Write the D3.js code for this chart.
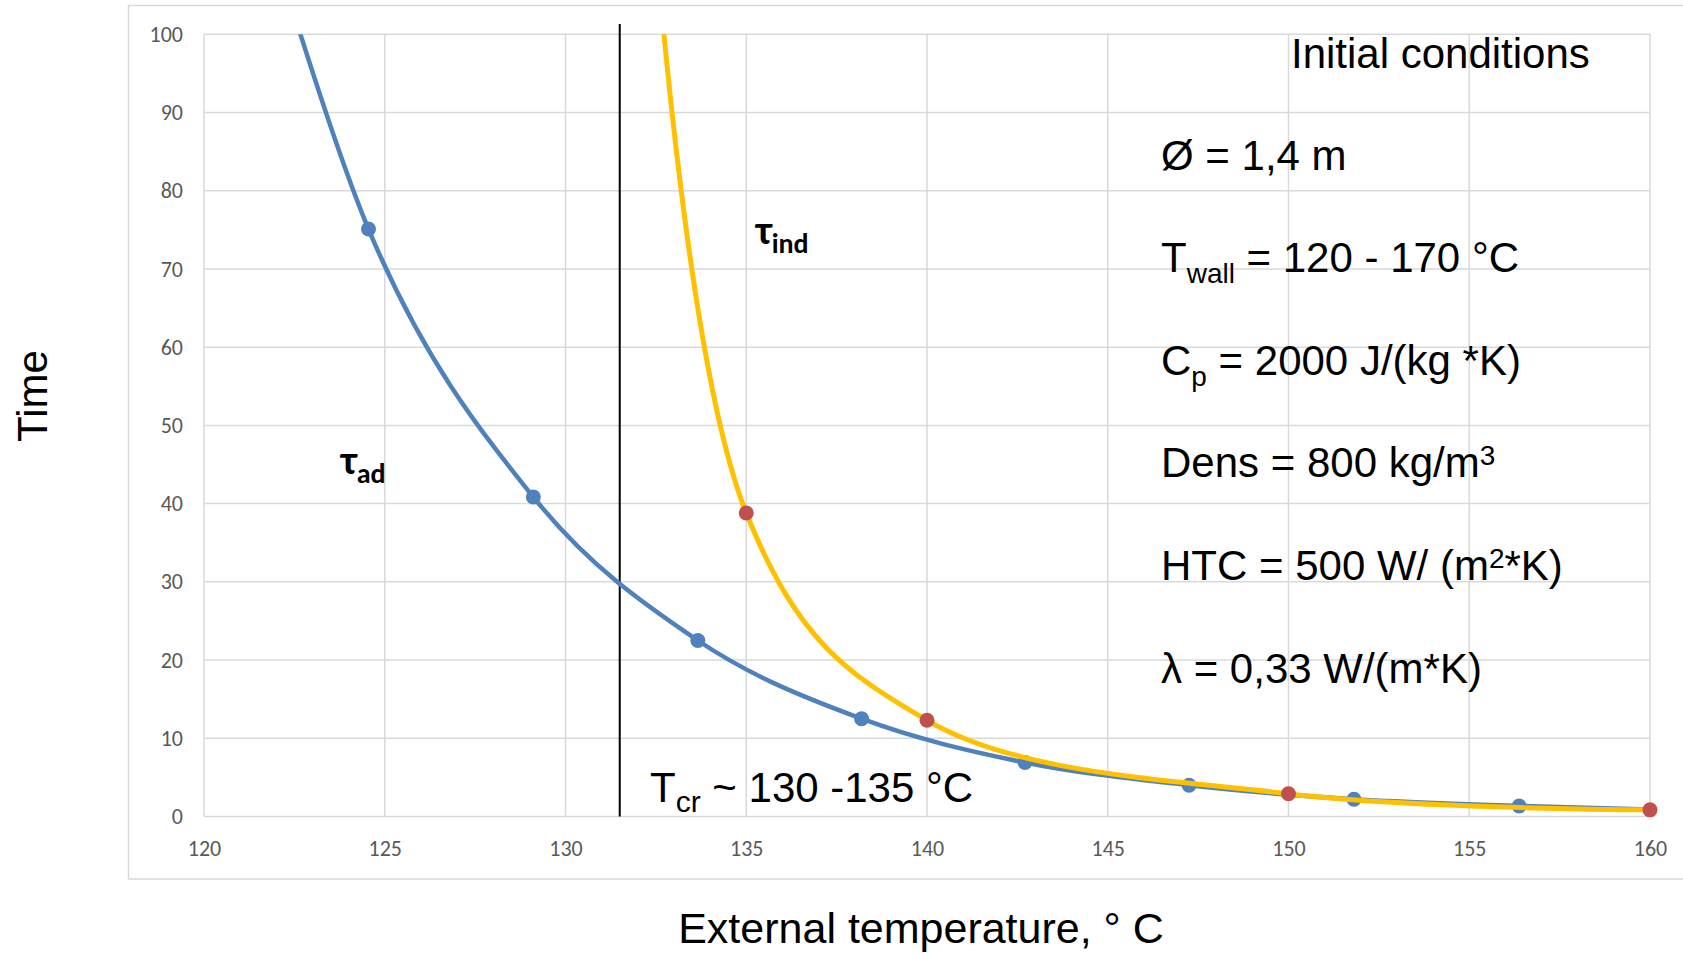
<!DOCTYPE html>
<html>
<head>
<meta charset="utf-8">
<script src="https://cdn.jsdelivr.net/npm/d3@7"></script>
<style>
  html, body { margin: 0; padding: 0; background: #fff; }
  svg { display: block; }
</style>
</head>
<body>
<svg id="chart" width="1683" height="953"></svg>
<script>
// ---- data ----
const xTicks = [120, 125, 130, 135, 140, 145, 150, 155, 160];
const yTicks = [0, 10, 20, 30, 40, 50, 60, 70, 80, 90, 100];

// tau_ad (blue) series
const adX = [120, 124.55, 129.11, 133.66, 138.19, 142.71, 147.25, 151.81, 156.38, 160.93];
const adY = [141, 75.1, 40.85, 22.5, 12.5, 6.9, 4.0, 2.2, 1.35, 0.8];

// tau_ind (yellow line, red markers) series
const indX = [130, 135, 140, 150, 160];
const indY = [560, 38.8, 12.3, 2.9, 0.85];

// critical temperature line
const tCritical = 131.5;

const xDomain = [120, 160];
const yDomain = [0, 100];

// ---- drawing ----
const svg = d3.select("#chart");
const W = 1683, H = 953;
const plot = { left: 204, right: 1650, top: 34.3, bottom: 816.5 };

const x = d3.scaleLinear().domain(xDomain).range([plot.left, plot.right]);
const y = d3.scaleLinear().domain(yDomain).range([plot.bottom, plot.top]);

const tickFont = "Carlito, Lato, 'Open Sans', sans-serif";
const mainFont = "'Liberation Sans', Arial, sans-serif";
const greekFont = "Carlito, 'Open Sans', 'Noto Sans', sans-serif";

// outer chart border
svg.append("rect")
  .attr("x", 128.5).attr("y", 5.5)
  .attr("width", W + 10).attr("height", 879 - 5.5)
  .attr("fill", "none").attr("stroke", "#d9d9d9").attr("stroke-width", 1.5);

// gridlines
const grid = svg.append("g");
grid.selectAll("line.h").data(yTicks).join("line")
  .attr("x1", plot.left).attr("x2", plot.right)
  .attr("y1", d => y(d)).attr("y2", d => y(d))
  .attr("stroke", "#d9d9d9").attr("stroke-width", 1.5);
grid.selectAll("line.v").data(xTicks).join("line")
  .attr("y1", plot.top).attr("y2", plot.bottom)
  .attr("x1", d => x(d)).attr("x2", d => x(d))
  .attr("stroke", "#d9d9d9").attr("stroke-width", 1.5);

// axes (labels only, via d3 axes)
const xAxis = svg.append("g")
  .attr("transform", `translate(0,${plot.bottom})`)
  .call(d3.axisBottom(x).tickValues(xTicks).tickSize(0).tickPadding(24));
const yAxis = svg.append("g")
  .attr("transform", `translate(${plot.left},0)`)
  .call(d3.axisLeft(y).tickValues(yTicks).tickSize(0).tickPadding(21));
[xAxis, yAxis].forEach(a => {
  a.select(".domain").remove();
  a.selectAll("text")
    .attr("fill", "#595959")
    .style("font-family", tickFont)
    .style("font-size", "22px");
});

// clip for curves
svg.append("defs").append("clipPath").attr("id", "plotClip")
  .append("rect")
  .attr("x", plot.left).attr("y", plot.top)
  .attr("width", plot.right - plot.left).attr("height", plot.bottom - plot.top);

const lineAd = d3.line()
  .x(d => x(d[0])).y(d => y(d[1]))
  .curve(d3.curveCardinal.tension(0));
const lineInd = d3.line()
  .x(d => x(d[0])).y(d => y(d[1]))
  .curve(d3.curveCatmullRom.alpha(0.5));

const adData = adX.map((v, i) => [v, adY[i]]);
const indData = indX.map((v, i) => [v, indY[i]]);
const inDomain = d => d[0] >= xDomain[0] && d[0] <= xDomain[1] && d[1] >= yDomain[0] && d[1] <= yDomain[1];

// critical temperature vertical line
svg.append("line")
  .attr("x1", x(tCritical)).attr("x2", x(tCritical))
  .attr("y1", 24).attr("y2", plot.bottom)
  .attr("stroke", "#000").attr("stroke-width", 2);

// blue series
svg.append("g").attr("clip-path", "url(#plotClip)")
  .append("path").datum(adData)
  .attr("d", lineAd).attr("fill", "none")
  .attr("stroke", "#4f81bd").attr("stroke-width", 4.5);
svg.append("g").selectAll("circle").data(adData.filter(inDomain)).join("circle")
  .attr("cx", d => x(d[0])).attr("cy", d => y(d[1])).attr("r", 7.5)
  .attr("fill", "#4f81bd");

// yellow series
svg.append("g").attr("clip-path", "url(#plotClip)")
  .append("path").datum(indData)
  .attr("d", lineInd).attr("fill", "none")
  .attr("stroke", "#ffc000").attr("stroke-width", 5);
svg.append("g").selectAll("circle").data(indData.filter(inDomain)).join("circle")
  .attr("cx", d => x(d[0])).attr("cy", d => y(d[1])).attr("r", 7.5)
  .attr("fill", "#c0504d");

// axis titles
svg.append("text")
  .attr("x", 921).attr("y", 943)
  .attr("text-anchor", "middle")
  .style("font-family", mainFont).style("font-size", "43px")
  .text("External temperature, ° C");
svg.append("text")
  .attr("transform", "translate(47,396) rotate(-90)")
  .attr("text-anchor", "middle")
  .style("font-family", mainFont).style("font-size", "42px")
  .text("Time");

// rich text helper: parts = [[text, "n"|"sub"|"sup"], ...]
function rich(px, py, parts, size, family, weight, subSize, subShift) {
  const t = svg.append("text")
    .attr("x", px).attr("y", py)
    .style("font-family", family).style("font-size", size + "px")
    .style("font-weight", weight || "normal");
  let cur = 0;
  parts.forEach(([s, kind]) => {
    let target = 0;
    if (kind === "sub") target = subShift;
    if (kind === "sup") target = -subShift;
    const ts = t.append("tspan").attr("dy", target - cur).text(s);
    if (kind !== "n") ts.style("font-size", subSize + "px");
    cur = target;
  });
  return t;
}

// annotations
rich(1291, 68, [["Initial conditions", "n"]], 42, mainFont);
const annX = 1161;
rich(annX, 170, [["Ø = 1,4 m", "n"]], 42, mainFont);
rich(annX, 272, [["T", "n"], ["wall", "sub"], [" = 120 - 170 °C", "n"]], 42, mainFont, "normal", 28, 11);
rich(annX, 375, [["C", "n"], ["p", "sub"], [" = 2000 J/(kg *K)", "n"]], 42, mainFont, "normal", 28, 11);
rich(annX, 477, [["Dens = 800 kg/m", "n"], ["3", "sup"]], 42, mainFont, "normal", 28, 12);
rich(annX, 580, [["HTC = 500 W/ (m", "n"], ["2", "sup"], ["*K)", "n"]], 42, mainFont, "normal", 28, 12);
rich(annX, 683, [["λ = 0,33 W/(m*K)", "n"]], 42, mainFont);

rich(650, 802, [["T", "n"], ["cr", "sub"], [" ~ 130 -135 °C", "n"]], 42, mainFont, "normal", 30, 10);

rich(341, 474, [["τ", "n"], ["ad", "sub"]], 40, greekFont, "bold", 28, 9);
rich(756, 244, [["τ", "n"], ["ind", "sub"]], 40, greekFont, "bold", 28, 9);
</script>
</body>
</html>
